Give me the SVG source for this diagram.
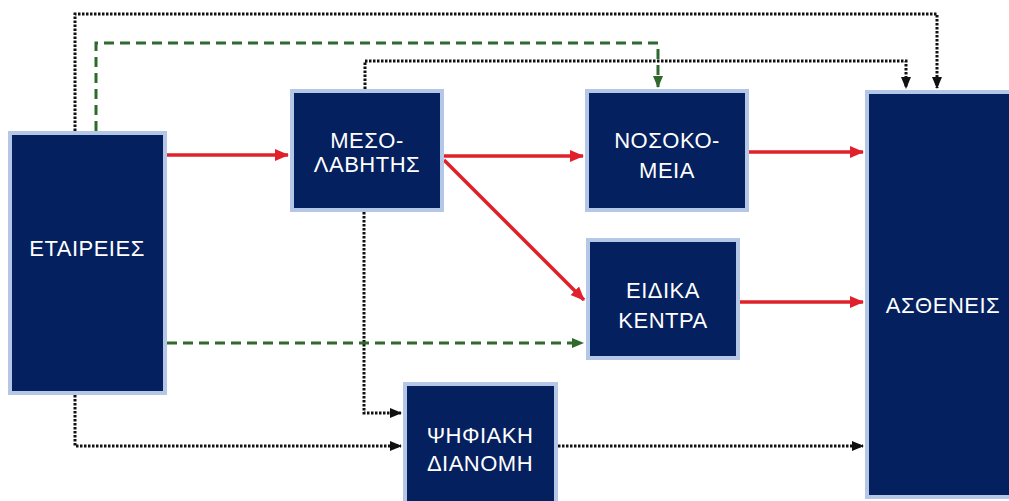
<svg xmlns="http://www.w3.org/2000/svg" width="1009" height="501" viewBox="0 0 1009 501">
<style>
.box{fill:#04205e;stroke:#b4c7e7;stroke-width:4}
.t{font-family:"Liberation Sans",Arial,sans-serif;font-size:22px;letter-spacing:0.5px;fill:#ffffff;text-anchor:middle}
.red{stroke:#e0202a;stroke-width:3.5;fill:none}
.grn{stroke:#2f6a2c;stroke-width:3;fill:none;stroke-dasharray:10 6}
.blk{stroke:#111111;stroke-width:3;fill:none;stroke-dasharray:2.5 1.5}
</style>
<defs>
<marker id="ar" markerUnits="userSpaceOnUse" markerWidth="14" markerHeight="14" refX="13" refY="7" orient="auto">
<path d="M0,1 L14,7 L0,13 Z" fill="#e0202a"/>
</marker>
<marker id="ag" markerUnits="userSpaceOnUse" markerWidth="12" markerHeight="12" refX="11" refY="6" orient="auto">
<path d="M0,1 L12,6 L0,11 Z" fill="#2f6a2c"/>
</marker>
<marker id="ab" markerUnits="userSpaceOnUse" markerWidth="12" markerHeight="12" refX="11" refY="6" orient="auto">
<path d="M0,1 L12,6 L0,11 Z" fill="#111111"/>
</marker>
</defs>
<rect width="1009" height="501" fill="#ffffff"/>
<g id="connectors">
<path class="blk" d="M75,131 V14 H937 V88" marker-end="url(#ab)"/>
<path class="blk" d="M365,89 V61 H906 V88" marker-end="url(#ab)"/>
<path class="blk" d="M364,212 V413 H401" marker-end="url(#ab)"/>
<path class="blk" d="M75,395 V446 H401" marker-end="url(#ab)"/>
<path class="blk" d="M558,446 H863" marker-end="url(#ab)"/>
<path class="grn" d="M96,131 V43 H658 V87" marker-end="url(#ag)"/>
<path class="grn" d="M167,343 H583" marker-end="url(#ag)"/>
<path class="red" d="M167,155 H288" marker-end="url(#ar)"/>
<path class="red" d="M444,156 H583" marker-end="url(#ar)"/>
<path class="red" d="M444,160 L584,300" marker-end="url(#ar)"/>
<path class="red" d="M749,152 H863" marker-end="url(#ar)"/>
<path class="red" d="M740,302 H863" marker-end="url(#ar)"/>
</g>
<g id="etaireies"><rect class="box" x="10" y="133" width="155" height="260"/><text class="t" x="87" y="256">ΕΤΑΙΡΕΙΕΣ</text></g>
<g id="mesolavitis"><rect class="box" x="292" y="91" width="150" height="119"/><text class="t" x="367" y="148">ΜΕΣΟ-</text><text class="t" x="367" y="172">ΛΑΒΗΤΗΣ</text></g>
<g id="nosokomeia"><rect class="box" x="587" y="91" width="160" height="119"/><text class="t" x="667" y="148">ΝΟΣΟΚΟ-</text><text class="t" x="667" y="178">ΜΕΙΑ</text></g>
<g id="eidika"><rect class="box" x="588" y="240" width="150" height="118"/><text class="t" x="663" y="298">ΕΙΔΙΚΑ</text><text class="t" x="663" y="328">ΚΕΝΤΡΑ</text></g>
<g id="asthenes"><rect class="box" x="867" y="92" width="150" height="405"/><text class="t" x="943" y="313">ΑΣΘΕΝΕΙΣ</text></g>
<g id="psifiaki"><rect class="box" x="405" y="384" width="151" height="125"/><text class="t" x="480" y="443">ΨΗΦΙΑΚΗ</text><text class="t" x="480" y="471">ΔΙΑΝΟΜΗ</text></g>
</svg>
